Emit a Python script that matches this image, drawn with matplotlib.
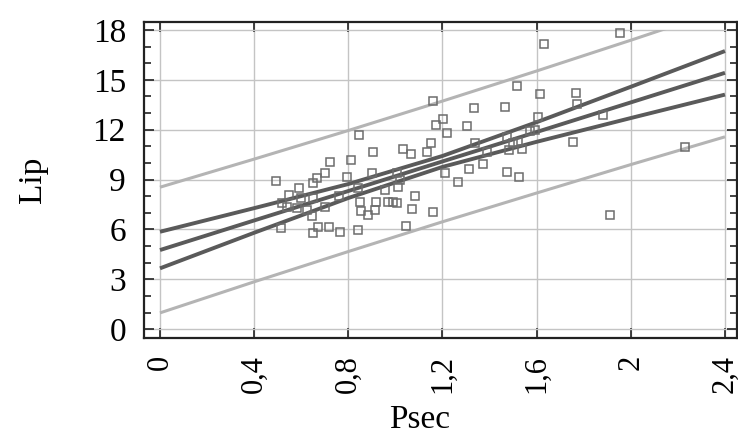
import numpy as np
import matplotlib
matplotlib.use("Agg")
import matplotlib.pyplot as plt
from matplotlib.patches import Rectangle
from matplotlib.ticker import FuncFormatter, MultipleLocator

# scatter data
psec = [0.493, 0.512, 0.518, 0.549, 0.538, 0.581, 0.592, 0.623, 0.644, 0.649,
        0.649, 0.651, 0.666, 0.673, 0.701, 0.701, 0.718, 0.722, 0.765, 0.793,
        0.810, 0.843, 0.843, 0.847, 0.850, 0.853, 0.885, 0.899, 0.906, 0.913,
        0.917, 0.956, 0.970, 0.991, 1.008, 1.006, 1.020, 1.012, 1.031, 1.044,
        1.065, 1.070, 1.085, 1.133, 1.153, 1.161, 1.161, 1.172, 1.204, 1.211,
        1.218, 1.268, 1.303, 1.314, 1.334, 1.338, 1.371, 1.388, 1.466, 1.473,
        1.476, 1.482, 1.501, 1.518, 1.526, 1.536, 1.572, 1.593, 1.607, 1.614,
        1.631, 1.753, 1.766, 1.770, 1.881, 1.912, 1.954, 2.230, 1.522, 0.760,
        0.600]
lip = [8.91, 6.07, 7.57, 8.07, 7.37, 7.27, 8.47, 7.17, 6.81, 8.81,
       7.87, 5.77, 9.11, 6.13, 9.41, 7.37, 6.16, 10.04, 5.86, 9.17,
       10.17, 5.96, 8.47, 11.68, 7.67, 7.13, 6.87, 9.41, 10.67, 7.17,
       7.67, 8.37, 7.67, 7.67, 7.57, 9.37, 8.97, 8.57, 10.84, 6.22,
       10.54, 7.21, 8.03, 10.67, 11.18, 13.74, 7.03, 12.28, 12.62, 9.41,
       11.78, 8.87, 12.24, 9.63, 13.28, 11.18, 9.93, 10.67, 13.38, 9.43,
       11.58, 10.78, 11.18, 14.64, 9.13, 10.82, 11.94, 11.98, 12.78, 14.12,
       17.13, 11.28, 14.22, 13.54, 12.88, 6.87, 17.83, 10.97, 11.27, 8.00,
       7.90]

# regression line, 95% confidence and prediction bands (read at these x)
band_x = [0, 0.4, 0.8, 1.2, 1.6, 2.0, 2.4]
fit = [4.76, 6.54, 8.31, 10.09, 11.86, 13.64, 15.42]
conf_hi = [5.86, 7.28, 8.73, 10.42, 12.45, 14.58, 16.73]
conf_lo = [3.66, 5.80, 7.89, 9.76, 11.27, 12.70, 14.11]
pred_hi = [8.54, 10.23, 11.95, 13.72, 15.53, 17.38, 19.27]
pred_lo = [0.98, 2.85, 4.67, 6.46, 8.19, 9.90, 11.57]

x_ticks = [0, 0.4, 0.8, 1.2, 1.6, 2.0, 2.4]
y_ticks = [0, 3, 6, 9, 12, 15, 18]

plt.rcParams['font.family'] = ['Liberation Serif', 'DejaVu Serif']

fig = plt.figure(figsize=(7.38, 4.34), dpi=100)
ax = fig.add_axes([0.1951, 0.2212, 0.8035, 0.729])

xlim = (-0.068, 2.451)
ylim = (-0.53, 18.5)
ax.set_xlim(*xlim)
ax.set_ylim(*ylim)

dark = '#5a5a5a'
light = '#b4b4b4'
# bands stop at the top of the data area (y = 18)
clip = Rectangle((xlim[0], ylim[0]), xlim[1] - xlim[0], 18 - ylim[0],
                 transform=ax.transData, fill=False, visible=False)
ax.add_patch(clip)

for ys, col, lw in [(pred_hi, light, 2.2), (pred_lo, light, 2.2),
                    (conf_hi, dark, 2.8), (fit, dark, 2.8), (conf_lo, dark, 2.8)]:
    line, = ax.plot(band_x, ys, color=col, lw=lw, zorder=3, solid_capstyle='butt')
    line.set_clip_path(clip)

ax.plot(psec, lip, 's', ms=5.8, mfc='none', mec='#6c6c6c', mew=1.1, zorder=4)

ax.set_xticks(x_ticks)
ax.set_yticks(y_ticks)
ax.yaxis.set_minor_locator(MultipleLocator(1))
ax.xaxis.set_major_formatter(FuncFormatter(lambda v, p: f"{v:g}".replace('.', ',')))
ax.grid(True, color='#c4c4c4', lw=1.0, zorder=1)

ax.tick_params(which='both', direction='in', top=True, right=True, width=1.2,
               color='#222222')
ax.tick_params(which='major', length=7)
ax.tick_params(which='minor', length=5)
ax.tick_params(axis='y', labelsize=24, pad=13)
ax.tick_params(axis='x', labelsize=22, pad=12, labelrotation=90)

for s in ax.spines.values():
    s.set_linewidth(1.6)
    s.set_color('#222222')

ax.set_xlabel('Psec', fontsize=24)
ax.xaxis.set_label_coords(0.464, -0.21)
ax.set_ylabel('Lip', fontsize=24, labelpad=32)

fig.savefig('out.png', dpi=100)
